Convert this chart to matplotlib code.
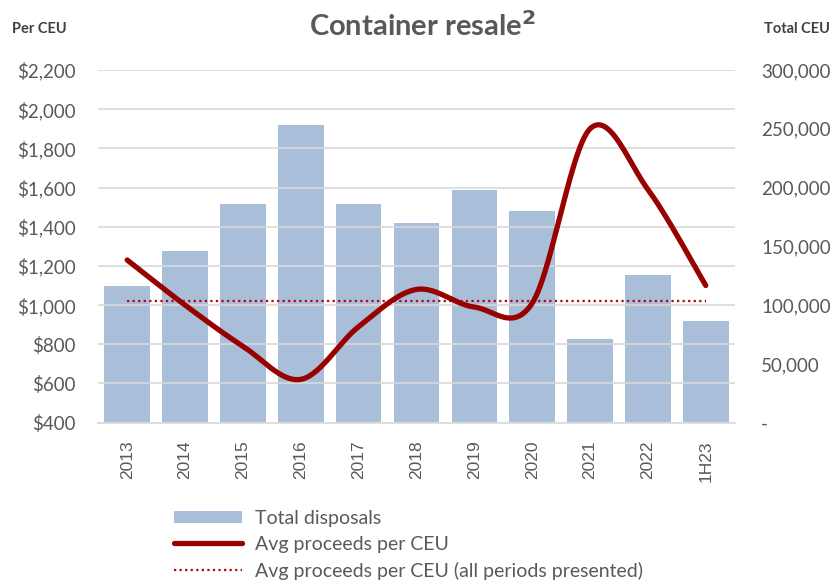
import numpy as np
import matplotlib
matplotlib.use('Agg')
from matplotlib import pyplot as plt
from matplotlib.patches import Patch
from matplotlib.lines import Line2D
from matplotlib.ticker import FuncFormatter

# data
periods = ['2013', '2014', '2015', '2016', '2017', '2018', '2019', '2020', '2021', '2022', '1H23']
total_disposals = [116200, 146200, 186100, 253000, 185900, 169500, 197500, 179900, 70900, 125500, 86400]
avg_proceeds = [1230, 1000, 790, 621, 890, 1080, 990, 1010, 1900, 1590, 1100]
avg_all_periods = 1019

GRAY = '#595959'
BAR = '#a9bfd9'
DARKRED = '#990000'
RED = '#c00000'


def smooth(xs, ys, n=30):
    # Excel-style smoothed line (Catmull-Rom / Bezier, tension 1/6)
    xs = np.asarray(xs, float)
    ys = np.asarray(ys, float)
    px = np.concatenate([[xs[0]], xs, [xs[-1]]])
    py = np.concatenate([[ys[0]], ys, [ys[-1]]])
    t = np.linspace(0, 1, n)
    ox, oy = [], []
    for i in range(1, len(px) - 2):
        c1x = px[i] + (px[i + 1] - px[i - 1]) / 6
        c1y = py[i] + (py[i + 1] - py[i - 1]) / 6
        c2x = px[i + 1] - (px[i + 2] - px[i]) / 6
        c2y = py[i + 1] - (py[i + 2] - py[i]) / 6
        b = [(1 - t) ** 3, 3 * (1 - t) ** 2 * t, 3 * (1 - t) * t ** 2, t ** 3]
        ox.append(b[0] * px[i] + b[1] * c1x + b[2] * c2x + b[3] * px[i + 1])
        oy.append(b[0] * py[i] + b[1] * c1y + b[2] * c2y + b[3] * py[i + 1])
    return np.concatenate(ox), np.concatenate(oy)


plt.rcParams['font.family'] = ['Lato', 'DejaVu Sans']

fig = plt.figure(figsize=(8.33, 5.83), dpi=100)
ax = fig.add_axes([0.118, 0.275, 0.764, 0.605])
ax2 = ax.twinx()

x = np.arange(len(periods))

# bars on the right axis (Total CEU)
ax2.bar(x, total_disposals, width=0.79, color=BAR, zorder=2)
ax2.set_ylim(0, 300000)
ax2.set_yticks(np.arange(0, 300001, 50000))
ax2.yaxis.set_major_formatter(FuncFormatter(lambda v, p: '-' if v == 0 else f'{v:,.0f}'))

# lines on the left axis (Per CEU)
ax.set_ylim(400, 2200)
ax.set_yticks(np.arange(400, 2201, 200))
ax.yaxis.set_major_formatter(FuncFormatter(lambda v, p: f'${v:,.0f}'))
ax.set_xlim(-0.5, len(periods) - 0.5)
ax.grid(axis='y', color='#d9d9d9', linewidth=1.2)
ax.set_axisbelow(True)

ax.set_zorder(ax2.get_zorder() + 1)
ax.patch.set_visible(False)

sx, sy = smooth(x, avg_proceeds)
ax.plot(sx, sy, color=DARKRED, linewidth=3.8, solid_capstyle='round', zorder=4)
ax.plot([x[0], x[-1]], [avg_all_periods, avg_all_periods], color=RED,
        linewidth=1.6, linestyle=(0, (1, 1.5)), zorder=3)

ax.set_xticks(x)
ax.set_xticklabels(periods, rotation=90, fontfamily='Liberation Sans')

for a in (ax, ax2):
    for s in a.spines.values():
        s.set_visible(False)
    a.tick_params(length=0, colors=GRAY, labelsize=13.5)
ax.tick_params(axis='x', labelsize=12.5, pad=13)
ax.tick_params(axis='y', pad=16)
ax2.tick_params(axis='y', pad=19)
ax.spines['bottom'].set_visible(True)
ax.spines['bottom'].set_color('#d9d9d9')
ax.spines['bottom'].set_linewidth(1.2)

fig.text(0.507, 0.955, 'Container resale$^\\mathbf{2}$', ha='center', va='center',
         fontsize=21, fontweight='bold', color=GRAY)
fig.text(0.014, 0.951, 'Per CEU', ha='left', va='center', fontsize=10.5,
         fontweight='bold', color='#404040')
fig.text(0.996, 0.951, 'Total CEU', ha='right', va='center', fontsize=10.5,
         fontweight='bold', color='#404040')

handles = [
    Patch(facecolor=BAR, edgecolor='none'),
    Line2D([], [], color=DARKRED, linewidth=3.8, solid_capstyle='round'),
    Line2D([], [], color=RED, linewidth=1.6, linestyle=(0, (1, 1.5))),
]
labels = ['Total disposals', 'Avg proceeds per CEU', 'Avg proceeds per CEU (all periods presented)']
leg = fig.legend(handles, labels, loc='upper left', bbox_to_anchor=(0.209, 0.125),
                 frameon=False, fontsize=14, handlelength=3.5, handleheight=0.6,
                 labelspacing=0.45, handletextpad=0.67, borderaxespad=0, borderpad=0)
for t in leg.get_texts():
    t.set_color(GRAY)

fig.savefig('out.png', dpi=100)
